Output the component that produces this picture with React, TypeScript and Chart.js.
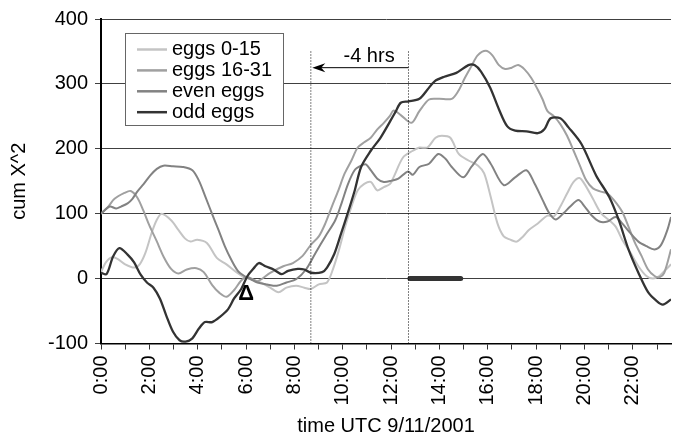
import React, { useEffect, useRef } from 'react';
import { Chart, registerables } from 'chart.js';

Chart.register(...registerables);

const FONT = "Arial, 'Liberation Sans', sans-serif";

const SERIES_NAMES = ['eggs 0-15', 'eggs 16-31', 'even eggs', 'odd eggs'];
const SERIES_COLORS = ['#c4c4c4', '#a0a0a0', '#828282', '#333333'];

const X_TITLE = 'time UTC 9/11/2001';
const Y_TITLE = 'cum X^2';
const X_MAX = 23.58;
const Y_MIN = -100;
const Y_MAX = 400;

// eggs 0-15
const t0to15 = [
  0, 0.2, 0.45, 0.7, 1.0, 1.37, 1.6, 1.84, 2.1, 2.3,
  2.51, 2.9, 3.2, 3.47, 3.7, 3.98, 4.38, 4.79, 5.19, 5.6,
  5.93, 6.2, 6.6, 7.0, 7.34, 7.67, 8.07, 8.41, 8.68, 9.01,
  9.35, 9.6, 9.85, 10.1, 10.36, 10.62, 10.89, 11.16, 11.43, 11.7,
  11.96, 12.1, 12.5, 12.9, 13.17, 13.5, 13.84, 14.1, 14.45, 14.8,
  15.2, 15.6, 15.85, 16.12, 16.4, 16.66, 16.93, 17.19, 17.46, 17.7,
  18.07, 18.47, 18.74, 19.0, 19.28, 19.55, 19.79, 20.0, 20.35, 20.68,
  21.02, 21.29, 21.56, 21.9, 22.23, 22.56, 22.83, 23.1, 23.37, 23.58,
];
const v0to15 = [
  10, 25, 33, 30, 22, 17, 22, 40, 71, 90,
  100, 90, 75, 62, 57, 60, 55, 32, 22, 10,
  2, -1, -6, -14, -21, -14, -11, -14, -16, -9,
  -6, 15, 45, 80, 111, 136, 146, 149, 136, 141,
  146, 156, 187, 197, 202, 202, 217, 220, 217, 192,
  182, 174, 162, 126, 85, 65, 60, 57, 65, 75,
  85, 97, 96, 111, 131, 149, 155, 146, 123, 101,
  90, 80, 60, 40, 19, 4, 0, 4, 14, 22,
];

// eggs 16-31
const t16to31 = [
  0, 0.3, 0.56, 0.97, 1.23, 1.5, 1.75, 2.0, 2.3, 2.6,
  2.9, 3.2, 3.55, 3.95, 4.25, 4.6, 4.9, 5.2, 5.5, 5.8,
  6.05, 6.47, 7.0, 7.54, 7.94, 8.34, 8.68, 9.01, 9.28, 9.55,
  9.82, 10.08, 10.36, 10.62, 10.89, 11.16, 11.43, 11.7, 11.96, 12.1,
  12.4, 12.84, 13.17, 13.57, 13.98, 14.51, 14.78, 15.05, 15.32, 15.58,
  15.92, 16.19, 16.46, 16.72, 16.99, 17.26, 17.53, 17.8, 18.07, 18.27,
  18.47, 18.74, 19.0, 19.28, 19.55, 19.81, 20.08, 20.35, 20.68, 20.95,
  21.22, 21.56, 21.82, 22.09, 22.36, 22.63, 22.9, 23.1, 23.3, 23.58,
];
const v16to31 = [
  100, 111, 123, 132, 135, 125, 105, 82, 58, 33,
  15, 8, 14, 16, 10, -10, -22, -28, -18, -3,
  3, -4, 9, 19, 24, 35, 52, 65, 85, 111,
  136, 162, 182, 202, 210, 217, 230, 240, 251, 259,
  252, 240, 258, 276, 277, 277, 289, 309, 327, 344,
  351, 344, 329, 323, 325, 329, 322, 309, 291, 276,
  258, 250, 238, 220, 197, 174, 151, 139, 134, 131,
  121, 103, 80, 55, 35, 14, 4, 2, 9, 45,
];

// even eggs
const tEven = [
  0, 0.36, 0.63, 0.83, 1.1, 1.3, 1.5, 1.77, 2.04, 2.31,
  2.58, 2.98, 3.38, 3.78, 4.05, 4.32, 4.59, 4.86, 5.12, 5.39,
  5.66, 5.93, 6.2, 6.47, 6.87, 7.27, 7.67, 8.07, 8.48, 8.88,
  9.28, 9.69, 9.95, 10.22, 10.49, 10.76, 10.96, 11.16, 11.43, 11.7,
  12.03, 12.3, 12.7, 12.9, 13.17, 13.57, 13.95, 14.24, 14.51, 14.98,
  15.32, 15.79, 16.12, 16.66, 17.13, 17.6, 17.94, 18.27, 18.54, 18.81,
  19.14, 19.41, 19.75, 20.01, 20.28, 20.62, 20.95, 21.29, 21.56, 21.9,
  22.23, 22.56, 22.9, 23.17, 23.43, 23.58,
];
const vEven = [
  100, 111, 108, 111, 116, 123, 134, 146, 159, 169,
  174, 173, 172, 167, 151, 126, 100, 75, 50, 29,
  12, 4, -1, -6, -9, -11, -6, -1, 14, 40,
  65, 90, 116, 146, 167, 174, 176, 167, 154, 149,
  151, 154, 165, 160, 172, 177, 192, 185, 172, 156,
  172, 192, 177, 144, 156, 167, 146, 121, 101, 91,
  101, 111, 121, 111, 98, 88, 88, 95, 85, 70,
  57, 50, 45, 52, 75, 95,
];

// odd eggs
const tOdd = [
  0, 0.23, 0.5, 0.76, 1.1, 1.37, 1.64, 1.9, 2.17, 2.44,
  2.7, 2.98, 3.25, 3.5, 3.78, 4.05, 4.3, 4.6, 4.92, 5.26,
  5.5, 5.8, 6.06, 6.3, 6.53, 6.8, 7.14, 7.47, 7.74, 8.14,
  8.41, 8.68, 9.15, 9.35, 9.65, 9.92, 10.2, 10.49, 10.76, 11.16,
  11.56, 11.97, 12.2, 12.4, 12.72, 13.17, 13.5, 13.8, 14.2, 14.7,
  15.2, 15.45, 15.72, 16.1, 16.46, 16.8, 17.13, 17.6, 18.07, 18.34,
  18.6, 19.0, 19.34, 19.88, 20.48, 21.02, 21.42, 21.82, 22.23, 22.63,
  22.97, 23.24, 23.58,
];
const vOdd = [
  9, 7, 34, 47, 37, 25, 6, -6, -14, -31,
  -57, -82, -95, -97, -92, -77, -67, -67, -59, -47,
  -31, -16, 4, 15, 24, 19, 14, 7, 12, 15,
  14, 9, 10, 17, 38, 68, 100, 135, 172, 197,
  217, 243, 258, 271, 273, 277, 291, 304, 311, 317,
  329, 329, 319, 294, 261, 235, 228, 227, 224, 230,
  247, 247, 233, 207, 159, 126, 90, 45, 9, -21,
  -34, -40, -32,
];

// annotations (hours / values)
const SHIFT_FROM = 12.72;
const SHIFT_TO = 8.68;
const ARROW_TIP = 8.74;
const DOTTED_TOP = 350;
const ARROW_Y = 325;
const SHIFT_LABEL = '-4 hrs';
const SHIFT_LABEL_POS = [11.09, 342];
const BAR_FROM = 12.78;
const BAR_TO = 14.88;
const DELTA_LABEL = 'Δ';
const DELTA_POS = [6.0, -24];

const pts = (t: number[], v: number[]) => t.map((x, i) => ({ x, y: v[i] }));

const overlayPlugin = {
  id: 'overlay',
  afterDraw(chart: any) {
    const { ctx, scales } = chart;
    const xs = scales.x;
    const ys = scales.y;
    ctx.save();
    // arrow head
    const tx = xs.getPixelForValue(ARROW_TIP);
    const ty = ys.getPixelForValue(ARROW_Y);
    ctx.fillStyle = '#000';
    ctx.beginPath();
    ctx.moveTo(tx, ty);
    ctx.lineTo(tx + 13, ty - 4.5);
    ctx.lineTo(tx + 9, ty);
    ctx.lineTo(tx + 13, ty + 4.5);
    ctx.closePath();
    ctx.fill();
    // texts
    ctx.fillStyle = '#000';
    ctx.textAlign = 'center';
    ctx.textBaseline = 'middle';
    ctx.font = `20px ${FONT}`;
    ctx.fillText(SHIFT_LABEL, xs.getPixelForValue(SHIFT_LABEL_POS[0]), ys.getPixelForValue(SHIFT_LABEL_POS[1]));
    ctx.font = `bold 22px ${FONT}`;
    ctx.fillText(DELTA_LABEL, xs.getPixelForValue(DELTA_POS[0]), ys.getPixelForValue(DELTA_POS[1]));
    // legend box
    ctx.fillStyle = '#fff';
    ctx.fillRect(125.5, 33.5, 158, 92);
    ctx.strokeStyle = '#666';
    ctx.lineWidth = 1;
    ctx.strokeRect(125.5, 33.5, 158, 92);
    ctx.textAlign = 'left';
    ctx.font = `20px ${FONT}`;
    SERIES_NAMES.forEach((name, i) => {
      const y = 49.5 + i * 20.9;
      ctx.strokeStyle = SERIES_COLORS[i];
      ctx.lineWidth = 2.5;
      ctx.beginPath();
      ctx.moveTo(137, y);
      ctx.lineTo(167, y);
      ctx.stroke();
      ctx.fillStyle = '#000';
      ctx.fillText(name, 172, y);
    });
    ctx.restore();
  },
};

export default function App() {
  const ref = useRef<HTMLCanvasElement>(null);
  useEffect(() => {
    document.body.style.margin = '0';
    const canvas = ref.current;
    if (!canvas) return;
    const seriesData = [pts(t0to15, v0to15), pts(t16to31, v16to31), pts(tEven, vEven), pts(tOdd, vOdd)];
    const seriesOrder = [4, 3, 2, 1];
    const datasets: any[] = SERIES_NAMES.map((name, i) => ({
      label: name,
      data: seriesData[i],
      borderColor: SERIES_COLORS[i],
      borderWidth: i === 3 ? 2.3 : 2,
      pointRadius: 0,
      tension: 0.3,
      fill: false,
      order: seriesOrder[i],
    }));
    const annot = (data: any[], extra: any) => ({
      label: '',
      data,
      borderColor: '#000',
      borderWidth: 1,
      pointRadius: 0,
      tension: 0,
      fill: false,
      order: 0,
      ...extra,
    });
    datasets.push(annot([{ x: SHIFT_TO, y: Y_MIN }, { x: SHIFT_TO, y: DOTTED_TOP }], { borderDash: [1, 2] }));
    datasets.push(annot([{ x: SHIFT_FROM, y: Y_MIN }, { x: SHIFT_FROM, y: DOTTED_TOP }], { borderDash: [1, 2] }));
    datasets.push(annot([{ x: ARROW_TIP + 0.2, y: ARROW_Y }, { x: SHIFT_FROM, y: ARROW_Y }], {}));
    datasets.push(annot([{ x: BAR_FROM, y: 0 }, { x: BAR_TO, y: 0 }], { borderColor: '#333', borderWidth: 5, borderCapStyle: 'round' }));

    const chart = new Chart(canvas, {
      type: 'line',
      data: { datasets },
      plugins: [overlayPlugin],
      options: {
        animation: false,
        responsive: false,
        devicePixelRatio: 1,
        layout: { padding: { top: 16, right: 0, left: 0, bottom: 0 } },
        plugins: { legend: { display: false }, tooltip: { enabled: false } },
        scales: {
          x: {
            type: 'linear',
            min: 0,
            max: X_MAX,
            afterFit: (s: any) => { s.height = 94.5; },
            ticks: {
              stepSize: 1,
              autoSkip: false,
              maxRotation: 90,
              minRotation: 90,
              includeBounds: false,
              padding: 6,
              color: '#000',
              font: { family: FONT, size: 20 },
              callback: (v: any) => {
                const n = Math.round(Number(v));
                return n % 2 === 0 ? `${n}:00` : '';
              },
            },
            grid: { drawOnChartArea: false, drawTicks: true, tickLength: 6, color: '#333', lineWidth: 1 },
            border: { display: true, color: '#000', width: 1.5 },
            title: {
              display: true,
              text: X_TITLE,
              color: '#000',
              font: { family: FONT, size: 20, lineHeight: 1.2 },
              padding: { top: 0, bottom: 0 },
            },
          },
          y: {
            type: 'linear',
            min: Y_MIN,
            max: Y_MAX,
            afterFit: (s: any) => { s.width = 101; },
            ticks: { stepSize: 100, padding: 7, color: '#000', font: { family: FONT, size: 20 } },
            grid: { color: '#404040', lineWidth: 1, tickLength: 6 },
            border: { display: true, color: '#000', width: 2 },
            title: {
              display: true,
              text: Y_TITLE,
              color: '#000',
              font: { family: FONT, size: 20, lineHeight: 1.2 },
              padding: { top: 7, bottom: 0 },
            },
          },
        },
      } as any,
    });
    return () => chart.destroy();
  }, []);
  return (
    <div style={{ width: 687, height: 438 }}>
      <canvas ref={ref} width={687} height={438} style={{ display: 'block' }} />
    </div>
  );
}
